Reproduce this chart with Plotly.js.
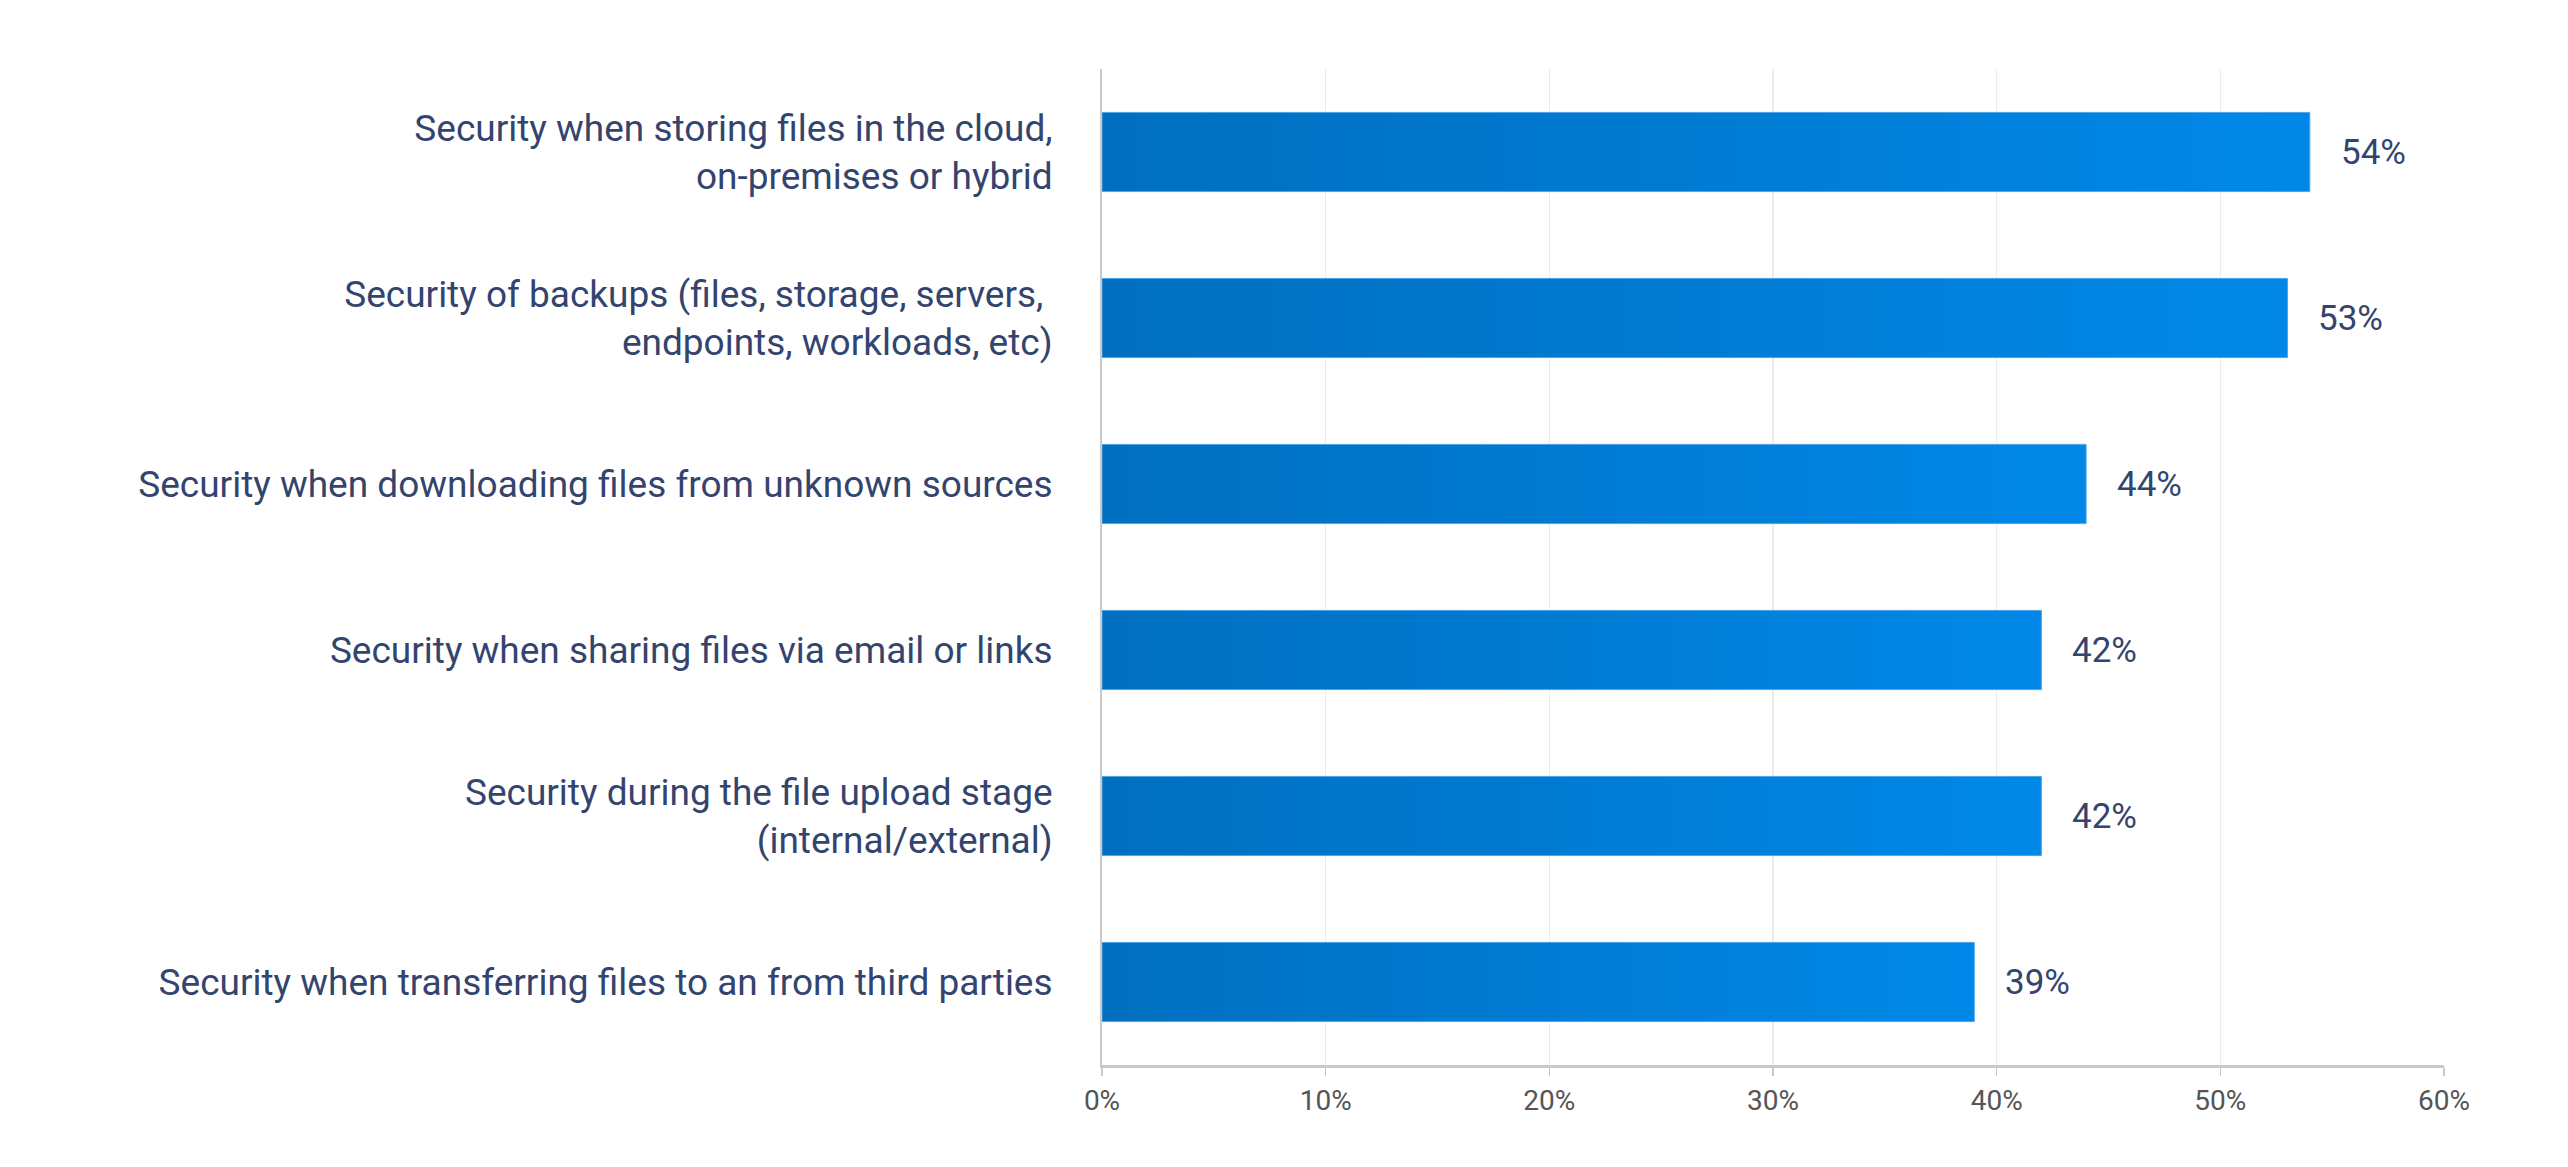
<!DOCTYPE html>
<html>
<head>
<meta charset="utf-8">
<script src="https://cdn.plot.ly/plotly-3.0.1.min.js"></script>
<style>html,body{margin:0;padding:0;background:#fff;}#chart{width:2568px;height:1167px;}</style>
</head>
<body>
<div id="chart"></div>
<script>
const categories = [
  "Security when storing files in the cloud,<br>on-premises or hybrid",
  "Security of backups (files, storage, servers, <br>endpoints, workloads, etc)",
  "Security when downloading files from unknown sources",
  "Security when sharing files via email or links",
  "Security during the file upload stage<br>(internal/external)",
  "Security when transferring files to an from third parties"
];
const values = [54, 53, 44, 42, 42, 39];
const tickVals = [0, 10, 20, 30, 40, 50, 60];
const tickText = ["0%", "10%", "20%", "30%", "40%", "50%", "60%"];

const FONT = "Roboto, 'Noto Sans', sans-serif";
const NAVY = "#33446e";

const trace = {
  type: "bar",
  orientation: "h",
  x: values,
  y: categories,
  width: 0.477,
  marker: { color: "#007ad6", line: { color: "#4ea4ea", width: 1 } },
  hoverinfo: "skip"
};

const annotations = values.map((v, i) => ({
  x: v, y: categories[i], xref: "x", yref: "y",
  text: v + "%", showarrow: false, xanchor: "left", xshift: 29,
  font: { family: FONT, size: 35, color: NAVY }
}));

const layout = {
  width: 2568, height: 1167,
  margin: { l: 1102, r: 124, t: 69, b: 102, pad: 0 },
  paper_bgcolor: "#ffffff", plot_bgcolor: "#ffffff",
  showlegend: false,
  xaxis: {
    range: [0, 60], tickvals: tickVals, ticktext: tickText,
    showgrid: true, gridcolor: "#ececec", gridwidth: 1.5,
    zeroline: false,
    showline: true, linecolor: "#c8c8c8", linewidth: 3,
    ticks: "outside", ticklen: 8, tickcolor: "#c8c8c8", tickwidth: 1.5,
    tickfont: { family: FONT, size: 28, color: "#555555" },
    fixedrange: true
  },
  yaxis: {
    type: "category", autorange: false, range: [5.5, -0.5],
    showgrid: false, zeroline: false,
    showline: true, linecolor: "#c8c8c8", linewidth: 2,
    ticks: "outside", ticklen: 40, tickcolor: "rgba(0,0,0,0)",
    tickfont: { family: FONT, size: 37, color: NAVY },
    fixedrange: true
  },
  annotations: annotations
};

Plotly.newPlot("chart", [trace], layout, { displayModeBar: false, staticPlot: true }).then(gd => {
  const svg = gd.querySelector("svg.main-svg");
  const ns = "http://www.w3.org/2000/svg";
  let defs = svg.querySelector("defs");
  if (!defs) { defs = document.createElementNS(ns, "defs"); svg.insertBefore(defs, svg.firstChild); }
  const grad = document.createElementNS(ns, "linearGradient");
  grad.setAttribute("id", "barGrad");
  grad.setAttribute("x1", "0"); grad.setAttribute("y1", "0");
  grad.setAttribute("x2", "1"); grad.setAttribute("y2", "0");
  [["0%", "#006fbf"], ["100%", "#0088e8"]].forEach(([o, c]) => {
    const s = document.createElementNS(ns, "stop");
    s.setAttribute("offset", o); s.setAttribute("stop-color", c);
    grad.appendChild(s);
  });
  defs.appendChild(grad);
  gd.querySelectorAll(".bars .point path").forEach(p => { p.style.fill = "url(#barGrad)"; });
});
</script>
</body>
</html>
